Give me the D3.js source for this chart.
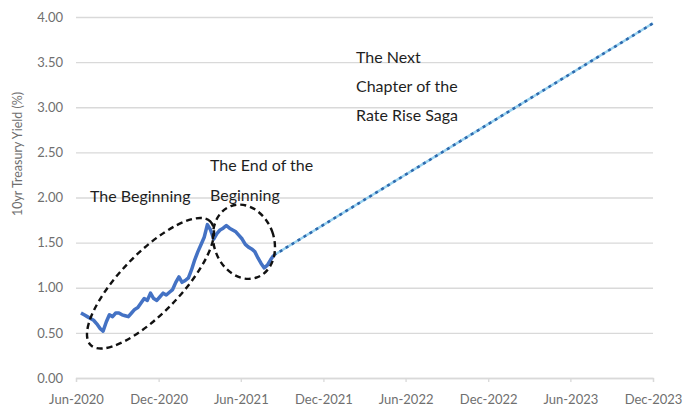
<!DOCTYPE html>
<html>
<head>
<meta charset="utf-8">
<script src="https://cdn.jsdelivr.net/npm/d3@7"></script>
<style>
	body { margin: 0; background: #fff; }
	text { font-family: Lato, 'Open Sans', sans-serif; }
</style>
</head>
<body>
<svg id="chart"></svg>
<script>
const width = 694, height = 412;
const plotLeft = 76, plotRight = 653, plotTop = 17, plotBottom = 378;

// axis ticks
const yTicks = [0, 0.5, 1, 1.5, 2, 2.5, 3, 3.5, 4];
const xTickDates = [
	new Date(2020, 5, 1), new Date(2020, 11, 1), new Date(2021, 5, 1), new Date(2021, 11, 1),
	new Date(2022, 5, 1), new Date(2022, 11, 1), new Date(2023, 5, 1), new Date(2023, 11, 1)
];
const xTickLabels = ['Jun-2020', 'Dec-2020', 'Jun-2021', 'Dec-2021', 'Jun-2022', 'Dec-2022', 'Jun-2023', 'Dec-2023'];

// weekly 10yr yield, Fridays 12 Jun 2020 .. 13 Aug 2021
const yieldDates = d3.timeFriday.range(new Date(2020, 5, 12), new Date(2021, 7, 14));
const yieldValues = [
	0.72, 0.70, 0.68, 0.66, 0.64, 0.60, 0.55, 0.52, 0.62, 0.70, 0.68, 0.72, 0.72,
	0.70, 0.69, 0.68, 0.72, 0.76, 0.78, 0.83, 0.88, 0.86, 0.94, 0.88, 0.86, 0.90,
	0.94, 0.92, 0.95, 0.98, 1.06, 1.12, 1.06, 1.08, 1.11, 1.20, 1.31, 1.40, 1.48,
	1.56, 1.70, 1.64, 1.54, 1.60, 1.64, 1.66, 1.69, 1.66, 1.64, 1.62, 1.58, 1.54,
	1.48, 1.45, 1.43, 1.40, 1.33, 1.27, 1.22, 1.25, 1.31, 1.36
];

// projected path
const projectionDates = [new Date(2021, 7, 13), new Date(2023, 11, 1)];
const projectionValues = [1.36, 3.93];

const labelBeginning = ['The Beginning'];
const labelEnd = ['The End of the', 'Beginning'];
const labelNext = ['The Next', 'Chapter of the', 'Rate Rise Saga'];

const svg = d3.select('#chart')
	.attr('width', width)
	.attr('height', height);

const xScale = d3.scaleTime()
	.domain([xTickDates[0], xTickDates[xTickDates.length - 1]])
	.range([plotLeft, plotRight]);

const yScale = d3.scaleLinear()
	.domain([0, 4])
	.range([plotBottom, plotTop]);

// gridlines + y labels
const yAxis = svg.append('g')
	.attr('class', 'y axis')
	.attr('transform', `translate(${plotLeft},0)`)
	.call(d3.axisLeft(yScale)
		.tickValues(yTicks)
		.tickFormat(d3.format('.2f'))
		.tickSize(-(plotRight - plotLeft))
		.tickPadding(13));
yAxis.select('.domain').remove();
yAxis.selectAll('line').attr('stroke', '#d9d9d9').attr('stroke-width', 1.3);
yAxis.selectAll('text').attr('fill', '#6f6f6f').style('font-size', '13px');

const xAxis = svg.append('g')
	.attr('class', 'x axis')
	.attr('transform', `translate(0,${plotBottom})`)
	.call(d3.axisBottom(xScale)
		.tickValues(xTickDates)
		.tickFormat((d, i) => xTickLabels[i])
		.tickSize(4)
		.tickPadding(13));
xAxis.select('.domain').attr('stroke', '#d9d9d9').attr('stroke-width', 1.3);
xAxis.selectAll('line').attr('stroke', '#d9d9d9').attr('stroke-width', 1.3);
xAxis.selectAll('text').attr('fill', '#6f6f6f').style('font-size', '13px');

svg.append('text')
	.attr('transform', 'translate(22,154) rotate(-90)')
	.attr('text-anchor', 'middle')
	.attr('fill', '#6f6f6f')
	.style('font-size', '12.5px')
	.text('10yr Treasury Yield (%)');

// actual yields
const yieldData = yieldDates.map((d, i) => ({ date: d, value: yieldValues[i] }));
const line = d3.line()
	.x(function(d) { return xScale(d.date); })
	.y(function(d) { return yScale(d.value); });

svg.append('path')
	.datum(yieldData)
	.attr('fill', 'none')
	.attr('stroke', '#4472c4')
	.attr('stroke-width', 3.5)
	.attr('stroke-linejoin', 'round')
	.attr('d', line);

// projection, dotted
const projData = projectionDates.map((d, i) => ({ date: d, value: projectionValues[i] }));
svg.append('path')
	.datum(projData)
	.attr('fill', 'none')
	.attr('stroke', '#9ad3f0')
	.attr('stroke-width', 2.4)
	.attr('d', line);
svg.append('path')
	.datum(projData)
	.attr('fill', 'none')
	.attr('stroke', '#2e69ad')
	.attr('stroke-width', 2.6)
	.attr('stroke-dasharray', '3,4')
	.attr('d', line);

// dashed ellipses
const ellipse = (date, value, rx, ry, angle) => {
	svg.append('ellipse')
		.attr('transform', `translate(${xScale(date)},${yScale(value)}) rotate(${angle})`)
		.attr('rx', rx)
		.attr('ry', ry)
		.attr('fill', 'none')
		.attr('stroke', '#111')
		.attr('stroke-width', 2.4)
		.attr('stroke-dasharray', '6,4');
}
ellipse(new Date(2020, 10, 13), 1.05, 86, 30, -46);
ellipse(new Date(2021, 5, 8), 1.51, 30, 38, -20);

// annotation text
const annotate = (lines, x, y, step) => {
	svg.append('g')
		.selectAll('text')
		.data(lines)
		.enter()
		.append('text')
		.attr('x', x)
		.attr('y', (d, i) => y + i * step)
		.attr('fill', '#1f1f1f')
		.style('font-size', '16px')
		.text(d => d);
}
annotate(labelBeginning, 90, 202, 0);
annotate(labelEnd, 210, 171, 30);
annotate(labelNext, 356, 63, 29);
</script>
</body>
</html>
